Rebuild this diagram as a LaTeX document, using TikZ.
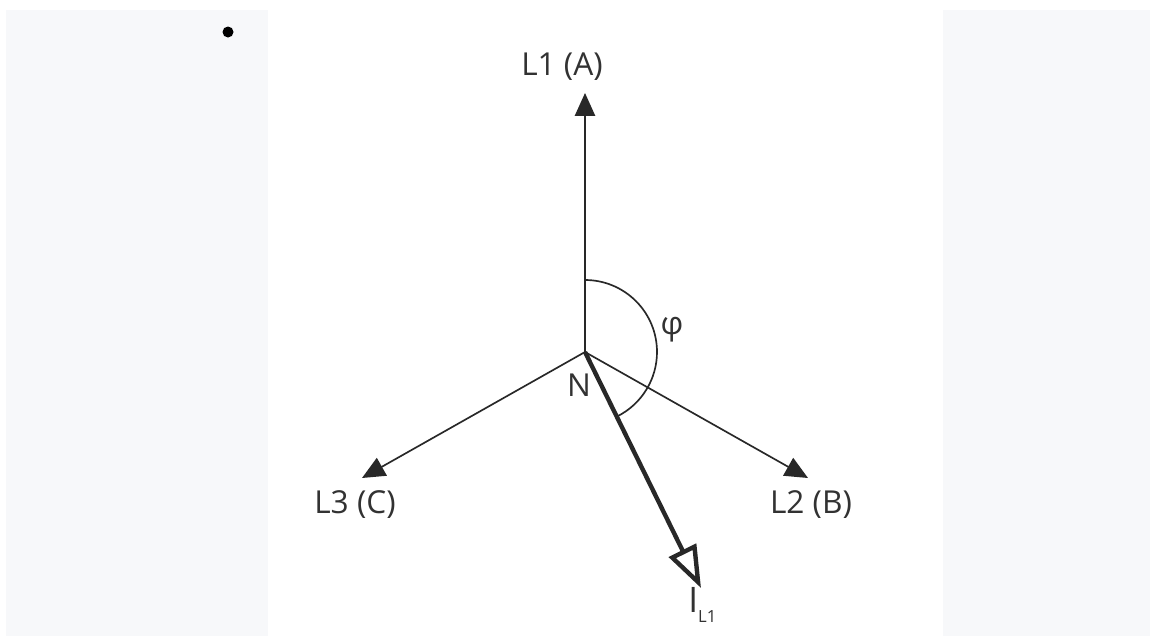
\documentclass[tikz,border=0pt]{standalone}
\usepackage{fontspec}
\setmainfont{Open Sans}
\usetikzlibrary{arrows.meta, positioning}
\definecolor{PanelGrey}{RGB}{247, 248, 250}
\definecolor{LineDark}{RGB}{40, 40, 40}
\definecolor{TextDark}{RGB}{50, 50, 50}

\tikzset{
  phasor/.style={LineDark, line width=0.95pt, -{Triangle[length=13pt, width=11.5pt]}},
  current/.style={LineDark, line width=2.5pt, -{Triangle[open, length=24pt, width=17pt]}},
  phaselabel/.style={TextDark, inner sep=0pt, font=\fontsize{18}{20}\selectfont}
}

\begin{document}
\begin{tikzpicture}[x=0.02cm, y=-0.02cm]
    \path[use as bounding box] (0,0) rectangle (1150,636);
    % page background and white sheet
    \fill[PanelGrey] (6,10) rectangle (1150,636);
    \fill[white] (268,10) rectangle (943,636);
    \fill[black] (228,32) circle (5.5);

    % star point and phase tips
    \coordinate (N) at (585,352);
    \coordinate (tipA) at (585,93);
    \coordinate (tipB) at (808,478);
    \coordinate (tipC) at (362,478);
    \coordinate (tipI) at (701,588);

    \draw[phasor] (N) -- (tipA);
    \draw[phasor] (N) -- (tipB);
    \draw[phasor] (N) -- (tipC);
    \draw[current] (N) -- (tipI);

    % angle between L1 and current (y axis points down)
    \draw[LineDark, line width=0.95pt] (585,280) arc[start angle=-90, end angle=63, radius=72];

    \node[phaselabel] (labA) at (562,67) {L1 (A)};
    \node[phaselabel] (labB) at (811,505) {L2 (B)};
    \node[phaselabel] (labC) at (355,505) {L3 (C)};
    \node[phaselabel] (labN) at (579,385) {N};
    \node[phaselabel] (labPhi) at (672,330) {φ};
    \node[phaselabel, anchor=west, font=\fontsize{20}{22}\selectfont] (labI) at (688,605) {I\raisebox{-0.5ex}{\fontsize{9.5}{10}\selectfont L1}};
\end{tikzpicture}
\end{document}
